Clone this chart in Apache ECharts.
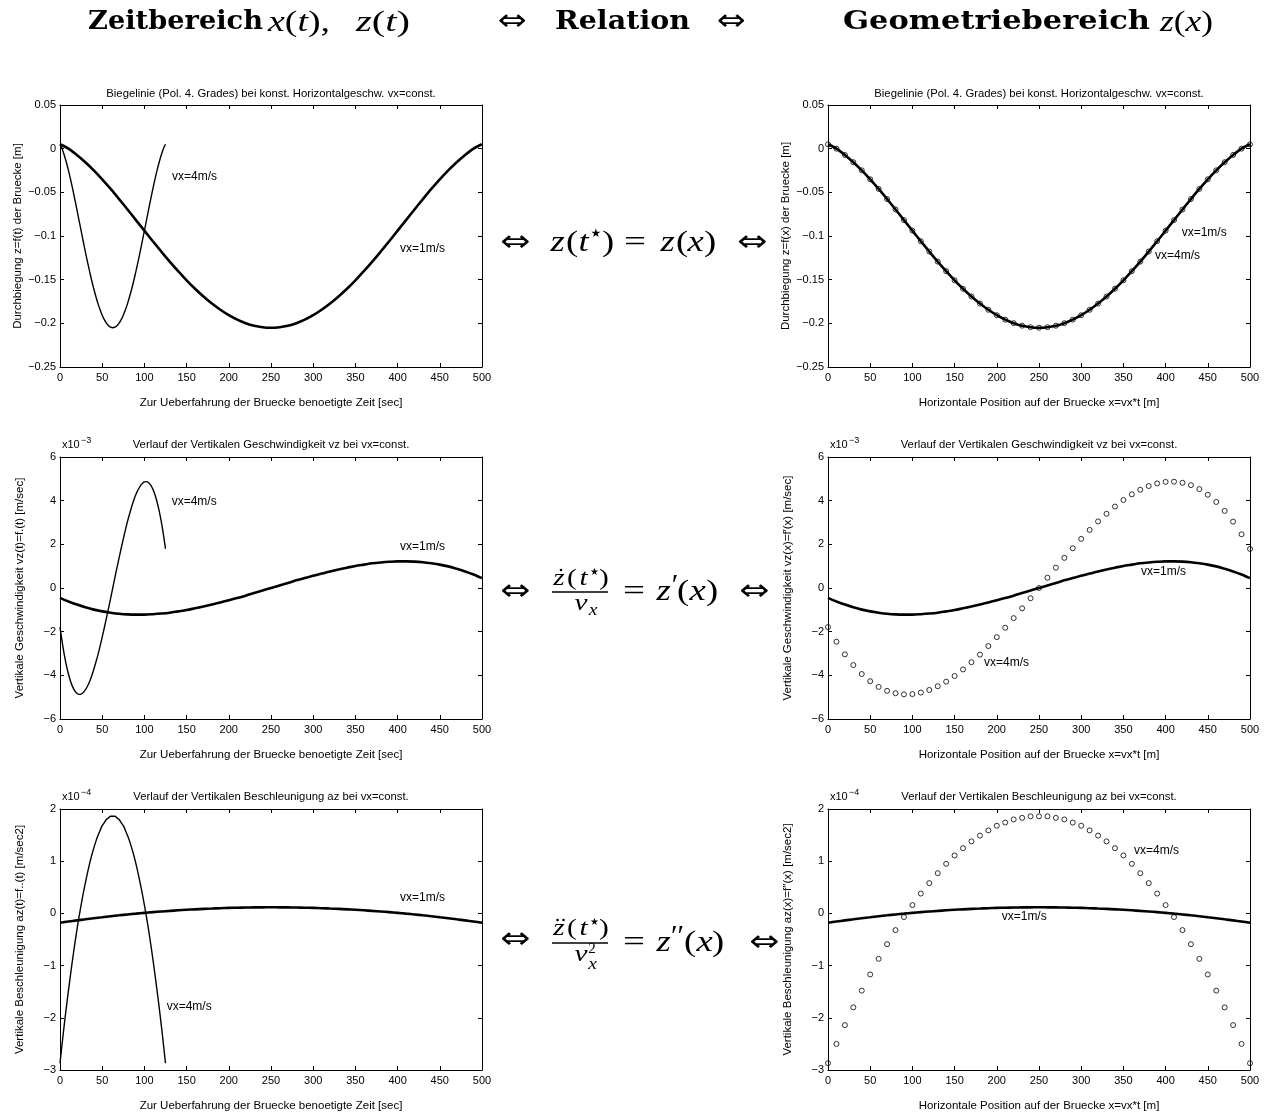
<!DOCTYPE html>
<html>
<head>
<meta charset="utf-8">
<title>Zeitbereich / Geometriebereich</title>
<script src="https://cdn.jsdelivr.net/npm/echarts@6/dist/echarts.min.js"></script>
<style>
  html, body { margin: 0; padding: 0; background: #fff; }
  #chart { width: 1271px; height: 1113px; }
</style>
</head>
<body>
<div id="chart"></div>
<script>
// Horizontal position on the bridge [m] (also the crossing time at vx = 1 m/s)
const posX = [0, 10, 20, 30, 40, 50, 60, 70, 80, 90, 100, 110, 120, 130, 140, 150, 160, 170, 180, 190,
  200, 210, 220, 230, 240, 250, 260, 270, 280, 290, 300, 310, 320, 330, 340, 350, 360, 370, 380, 390,
  400, 410, 420, 430, 440, 450, 460, 470, 480, 490, 500];
// Crossing time at vx = 4 m/s [sec]
const timeFast = [0, 2.5, 5, 7.5, 10, 12.5, 15, 17.5, 20, 22.5, 25, 27.5, 30, 32.5, 35, 37.5, 40, 42.5, 45, 47.5,
  50, 52.5, 55, 57.5, 60, 62.5, 65, 67.5, 70, 72.5, 75, 77.5, 80, 82.5, 85, 87.5, 90, 92.5, 95, 97.5,
  100, 102.5, 105, 107.5, 110, 112.5, 115, 117.5, 120, 122.5, 125];

// Deflection z [m] (same for both speeds)
const zDefl = [0.005, 0.000, -0.0072, -0.0155, -0.0248, -0.0351, -0.0461, -0.0577, -0.0696, -0.0818,
  -0.0939, -0.1060, -0.1178, -0.1293, -0.1403, -0.1507, -0.1604, -0.1693, -0.1774, -0.1845,
  -0.1907, -0.1958, -0.1998, -0.2027, -0.2044, -0.2050, -0.2044, -0.2027, -0.1998, -0.1958,
  -0.1907, -0.1845, -0.1774, -0.1693, -0.1604, -0.1507, -0.1403, -0.1293, -0.1178, -0.1060,
  -0.0939, -0.0818, -0.0696, -0.0577, -0.0461, -0.0351, -0.0248, -0.0155, -0.0072, 0.000, 0.005];

// Vertical velocity vz [x10^-3 m/sec]
const vzSlow = [-0.45, -0.62, -0.76, -0.88, -0.99, -1.07, -1.13, -1.18, -1.21, -1.22,
  -1.22, -1.20, -1.17, -1.13, -1.07, -1.01, -0.93, -0.85, -0.76, -0.66,
  -0.56, -0.46, -0.35, -0.23, -0.12, 0.00, 0.12, 0.23, 0.35, 0.46,
  0.56, 0.66, 0.76, 0.85, 0.93, 1.01, 1.07, 1.13, 1.17, 1.20,
  1.22, 1.22, 1.21, 1.18, 1.13, 1.07, 0.99, 0.88, 0.76, 0.62, 0.45];
const vzFast = [-1.79, -2.46, -3.04, -3.53, -3.94, -4.27, -4.53, -4.71, -4.82, -4.87,
  -4.86, -4.79, -4.67, -4.50, -4.29, -4.03, -3.73, -3.40, -3.05, -2.66,
  -2.25, -1.82, -1.38, -0.93, -0.47, 0.00, 0.47, 0.93, 1.38, 1.82,
  2.25, 2.66, 3.05, 3.40, 3.73, 4.03, 4.29, 4.50, 4.67, 4.79,
  4.86, 4.87, 4.82, 4.71, 4.53, 4.27, 3.94, 3.53, 3.04, 2.46, 1.79];

// Vertical acceleration az [x10^-4 m/sec2]
const azSlow = [-0.179, -0.156, -0.134, -0.113, -0.092, -0.073, -0.054, -0.037, -0.020, -0.005,
  0.010, 0.024, 0.037, 0.048, 0.059, 0.069, 0.078, 0.086, 0.093, 0.100,
  0.105, 0.109, 0.112, 0.115, 0.116, 0.117, 0.116, 0.115, 0.112, 0.109,
  0.105, 0.100, 0.093, 0.086, 0.078, 0.069, 0.059, 0.048, 0.037, 0.024,
  0.010, -0.005, -0.020, -0.037, -0.054, -0.073, -0.092, -0.113, -0.134, -0.156, -0.179];
const azFast = [-2.87, -2.50, -2.14, -1.80, -1.48, -1.17, -0.87, -0.59, -0.32, -0.07,
  0.16, 0.38, 0.58, 0.77, 0.95, 1.11, 1.25, 1.38, 1.49, 1.59,
  1.68, 1.74, 1.80, 1.83, 1.86, 1.86, 1.86, 1.83, 1.80, 1.74,
  1.68, 1.59, 1.49, 1.38, 1.25, 1.11, 0.95, 0.77, 0.58, 0.38,
  0.16, -0.07, -0.32, -0.59, -0.87, -1.17, -1.48, -1.80, -2.14, -2.50, -2.87];

// Axis ranges per row
const yMin = [-0.25, -6, -3];
const yMax = [0.05, 6, 2];
const yStep = [0.05, 2, 1];
const yExp = [null, '\u22123', '\u22124'];

const rowTitles = [
  'Biegelinie (Pol. 4. Grades) bei konst. Horizontalgeschw. vx=const.',
  'Verlauf der Vertikalen Geschwindigkeit vz bei vx=const.',
  'Verlauf der Vertikalen Beschleunigung az bei vx=const.'
];
const yNamesTime = [
  'Durchbiegung z=f(t) der Bruecke [m]',
  'Vertikale Geschwindigkeit vz(t)=f.(t) [m/sec]',
  'Vertikale Beschleunigung az(t)=f..(t) [m/sec2]'
];
const yNamesPos = [
  'Durchbiegung z=f(x) der Bruecke [m]',
  'Vertikale Geschwindigkeit vz(x)=f\u2032(x) [m/sec]',
  'Vertikale Beschleunigung az(x)=f\u2032\u2032(x) [m/sec2]'
];
const xNameTime = 'Zur Ueberfahrung der Bruecke benoetigte Zeit [sec]';
const xNamePos = 'Horizontale Position auf der Bruecke x=vx*t [m]';
const labelSlow = 'vx=1m/s';
const labelFast = 'vx=4m/s';

// ---------------------------------------------------------------------------
const SANS = '"Liberation Sans", Arial, Helvetica, sans-serif';
const BLACK = '#000';
const colLeft = [60, 828];
const gridW = 422;
const rowTop = [105, 457, 809];
const rowH = [262, 262, 261];

const chart = echarts.init(document.getElementById('chart'), null, { renderer: 'canvas' });

const grids = [], xAxes = [], yAxes = [], series = [];

function fmt(v) {
  return String(Number(v.toFixed(3))).replace('-', '\u2212');
}

function pairs(xs, ys) { return xs.map((x, i) => [x, ys[i]]); }

const fastData = [zDefl, vzFast, azFast];
const slowData = [zDefl, vzSlow, azSlow];

for (let r = 0; r < 3; r++) {
  for (let c = 0; c < 2; c++) {
    const p = r * 2 + c;
    grids.push({ left: colLeft[c], top: rowTop[r], width: gridW, height: rowH[r], show: false });
    const axisLine = { show: true, onZero: false, lineStyle: { color: BLACK, width: 1 } };
    const tick = { show: true, inside: true, length: 4, lineStyle: { color: BLACK, width: 1 } };
    xAxes.push({
      gridIndex: p, type: 'value', position: 'bottom', min: 0, max: 500, interval: 50,
      axisLine, axisTick: tick, splitLine: { show: false },
      axisLabel: { color: BLACK, fontSize: 11, fontFamily: SANS, margin: 5 },
      name: c === 0 ? xNameTime : xNamePos, nameLocation: 'middle', nameGap: 30,
      nameTextStyle: { color: BLACK, fontSize: 11.5, fontFamily: SANS }
    });
    xAxes.push({
      gridIndex: p, type: 'value', position: 'top', min: 0, max: 500, interval: 50,
      axisLine, axisTick: tick, splitLine: { show: false }, axisLabel: { show: false }
    });
    yAxes.push({
      gridIndex: p, type: 'value', position: 'left', min: yMin[r], max: yMax[r], interval: yStep[r],
      axisLine, axisTick: tick, splitLine: { show: false },
      axisLabel: { color: BLACK, fontSize: 11, fontFamily: SANS, margin: 4, formatter: fmt },
      name: c === 0 ? yNamesTime[r] : yNamesPos[r], nameLocation: 'middle', nameGap: 34,
      nameTextStyle: { color: BLACK, fontSize: 11.5, fontFamily: SANS }
    });
    yAxes.push({
      gridIndex: p, type: 'value', position: 'right', min: yMin[r], max: yMax[r], interval: yStep[r],
      axisLine, axisTick: tick, splitLine: { show: false }, axisLabel: { show: false }
    });

    const ax = { xAxisIndex: 2 * p, yAxisIndex: 2 * p };
    // vx = 1 m/s: thick line over the position / time grid
    series.push(Object.assign({
      type: 'line', data: pairs(posX, slowData[r]), symbol: 'none', silent: true, smooth: 0.3,
      lineStyle: { color: BLACK, width: 2.6 }, animation: false, z: 2
    }, ax));
    if (c === 0) {
      // vx = 4 m/s over time: thin line
      series.push(Object.assign({
        type: 'line', data: pairs(timeFast, fastData[r]), symbol: 'none', silent: true, smooth: 0.3,
        lineStyle: { color: BLACK, width: 1.4 }, animation: false, z: 3
      }, ax));
    } else {
      // vx = 4 m/s over position: open circles
      series.push(Object.assign({
        type: 'scatter', data: pairs(posX, fastData[r]), symbol: 'circle', symbolSize: 5,
        itemStyle: { color: 'rgba(0,0,0,0)', borderColor: BLACK, borderWidth: 1 }, silent: true,
        animation: false, z: 4
      }, ax));
    }
  }
}

chart.setOption({
  backgroundColor: '#fff',
  animation: false,
  grid: grids,
  xAxis: xAxes,
  yAxis: yAxes,
  series: series
});

// ---------------------------------------------------------------------------
// Text helpers for the header, panel titles and the relation formulas
const mctx = document.createElement('canvas').getContext('2d');
function measure(t, font) { mctx.font = font; return mctx.measureText(t).width; }

function txt(t, x, y, font, align, sx) {
  const el = {
    type: 'text', x: x, y: y, silent: true, z: 100,
    style: {
      text: t, font: font, fill: BLACK,
      align: align || 'center', verticalAlign: 'middle',
      textAlign: align || 'center', textVerticalAlign: 'middle'
    }
  };
  if (sx) el.scaleX = sx;
  return el;
}

// Lay pieces side by side and stretch them to span x0..x1
function fitRun(pieces, x0, x1, yc) {
  const w = pieces.map(p => measure(p[0], p[1]));
  const total = w.reduce((a, b) => a + b, 0);
  const s = (x1 - x0) / total;
  let x = x0;
  const out = [];
  pieces.forEach((p, i) => {
    const el = txt(p[0], x, yc + (p[2] || 0), p[1], 'left');
    el.scaleX = s;
    out.push(el);
    x += w[i] * s;
  });
  return out;
}

const HB = 'bold 26px "DejaVu Serif", serif';
const MI = 'italic 29px "Liberation Serif", serif';
const MR = '29px "Liberation Serif", serif';
const ARROW = '30px "DejaVu Sans", sans-serif';

const g = [];
// header line
g.push(...fitRun([['Zeitbereich', HB]], 88, 263, 22));
g.push(...fitRun([['x', MI], ['(', MR], ['t', MI], [')', MR], [',', MR]], 268, 330, 23));
g.push(...fitRun([['z', MI], ['(', MR], ['t', MI], [')', MR]], 356, 410, 23));
g.push(txt('\u21D4', 512, 22, ARROW, null, 1.15));
g.push(...fitRun([['Relation', HB]], 555, 690, 22));
g.push(txt('\u21D4', 731, 22, ARROW, null, 1.15));
g.push(...fitRun([['Geometriebereich', HB]], 843, 1150, 22));
g.push(...fitRun([['z', MI], ['(', MR], ['x', MI], [')', MR]], 1160, 1213, 23));

// panel titles and exponent markers
const titleY = [94, 445, 797];
for (let r = 0; r < 3; r++) {
  for (let c = 0; c < 2; c++) {
    g.push(txt(rowTitles[r], colLeft[c] + gridW / 2, titleY[r], '11.3px ' + SANS));
    if (yExp[r]) {
      g.push(txt('x10', colLeft[c] + 2, titleY[r], '11px ' + SANS, 'left'));
      g.push(txt(yExp[r], colLeft[c] + 21, titleY[r] - 4, '9px ' + SANS, 'left'));
    }
  }
}

// relation formulas between the columns
const LS = 1.22; // widen serif glyphs towards math-italic proportions
const FI = 'italic 30px "Liberation Serif", serif';
const FR = '30px "Liberation Serif", serif';
const NI = 'italic 24px "Liberation Serif", serif';
const NR = '24px "Liberation Serif", serif';
const SI = 'italic 16px "Liberation Serif", serif';
const SR = '15px "Liberation Serif", serif';
const STAR = '12px "DejaVu Sans", sans-serif';
const SSTAR = '10px "DejaVu Sans", sans-serif';
const AS = 1.2;

// z(t*) = z(x)
const y1 = 243;
g.push(txt('\u21D4', 515, y1, ARROW, null, AS));
g.push(txt('z', 557.5, y1, FI, null, LS), txt('(', 572, y1, FR, null, LS), txt('t', 583.5, y1, FI, null, LS),
  txt('\u2605', 596, y1 - 9, STAR), txt(')', 608, y1, FR, null, LS), txt('=', 635, y1, FR, null, 1.3),
  txt('z', 667.5, y1, FI, null, LS), txt('(', 682, y1, FR, null, LS), txt('x', 695.5, y1, FI, null, LS),
  txt(')', 710, y1, FR, null, LS));
g.push(txt('\u21D4', 752, y1, ARROW, null, AS));

// numerator z(t*) with one or two time-derivative dots
function fracNum(yn, dots) {
  const out = [txt('z', 559, yn, NI, null, LS), txt('(', 572, yn, NR, null, LS), txt('t', 583.5, yn, NI, null, LS),
    txt('\u2605', 594.5, yn - 7, SSTAR), txt(')', 604, yn, NR, null, LS)];
  const dx = dots === 1 ? [561] : [557.5, 563.5];
  dx.forEach(x => out.push({ type: 'circle', silent: true, z: 100, shape: { cx: x, cy: yn - 9, r: 1.3 }, style: { fill: BLACK } }));
  return out;
}

// dz(t*)/vx = z'(x)
const y2 = 592;
g.push(txt('\u21D4', 515, y2, ARROW, null, AS));
g.push(...fracNum(579, 1));
g.push({ type: 'line', silent: true, z: 100, shape: { x1: 552, y1: y2, x2: 608, y2: y2 }, style: { stroke: BLACK, lineWidth: 1.5 } });
g.push(txt('v', 581, 604, NI, null, LS), txt('x', 593, 611, SI, null, LS));
g.push(txt('=', 634, y2, FR, null, 1.3), txt('z', 663.5, y2, FI, null, LS), txt('\u2032', 675, y2 - 6, FR),
  txt('(', 683, y2, FR, null, LS), txt('x', 697.5, y2, FI, null, LS), txt(')', 712, y2, FR, null, LS));
g.push(txt('\u21D4', 754, y2, ARROW, null, AS));

// ddz(t*)/vx^2 = z''(x)
const y3 = 943;
g.push(txt('\u21D4', 515, 940, ARROW, null, AS));
g.push(...fracNum(929, 2));
g.push({ type: 'line', silent: true, z: 100, shape: { x1: 552, y1: y3, x2: 608, y2: y3 }, style: { stroke: BLACK, lineWidth: 1.5 } });
g.push(txt('v', 581, 955, NI, null, LS), txt('2', 592, 949, SR), txt('x', 592.5, 965, SI, null, LS));
g.push(txt('=', 634, y3, FR, null, 1.3), txt('z', 663.5, y3, FI, null, LS), txt('\u2032\u2032', 677.5, y3 - 6, FR),
  txt('(', 690, y3, FR, null, LS), txt('x', 704.5, y3, FI, null, LS), txt(')', 718, y3, FR, null, LS));
g.push(txt('\u21D4', 764, y3, ARROW, null, AS));

// curve annotations, placed through the panel scales
const notes = [
  [0, labelFast, 132.7, -0.032], [0, labelSlow, 402.8, -0.114],
  [1, labelSlow, 419, -0.096], [1, labelFast, 387.4, -0.1225],
  [2, labelFast, 132.3, 3.94], [2, labelSlow, 402.8, 1.88],
  [3, labelSlow, 370.9, 0.76], [3, labelFast, 184.8, -3.41],
  [4, labelSlow, 402.8, 0.31], [4, labelFast, 126.4, -1.79],
  [5, labelFast, 362.6, 1.21], [5, labelSlow, 205.8, -0.06]
];
notes.forEach(n => {
  const pt = chart.convertToPixel({ xAxisIndex: 2 * n[0], yAxisIndex: 2 * n[0] }, [n[2], n[3]]);
  g.push(txt(n[1], pt[0], pt[1], '12px ' + SANS, 'left'));
});

chart.setOption({ graphic: g });
</script>
</body>
</html>
